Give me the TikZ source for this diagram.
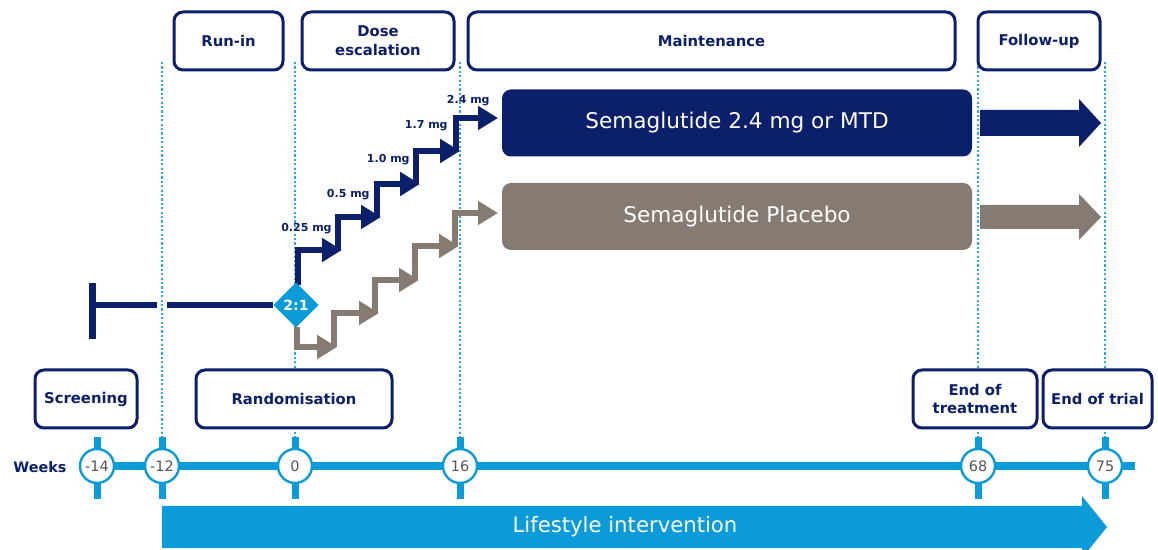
\documentclass[tikz,border=0pt]{standalone}
\usepackage{fontspec}
\setmainfont{DejaVu Sans}
\usepackage{tikz}
\usetikzlibrary{arrows.meta, shapes.geometric, backgrounds}

\definecolor{trialnavy}{HTML}{0B1F6B}
\definecolor{trialcyan}{HTML}{0A9BD8}
\definecolor{trialdot}{HTML}{29ABE2}
\definecolor{trialgrey}{HTML}{857B73}
\definecolor{weekgrey}{HTML}{555555}

\begin{document}
\begin{tikzpicture}[x=0.5pt, y=-0.5pt,
  phase/.style={draw=trialnavy, line width=1.5pt, rounded corners=4.5pt, fill=white,
    text=trialnavy, align=center, inner sep=0pt, minimum height=29pt,
    font=\fontsize{7.4}{9.4}\selectfont\bfseries},
  armbox/.style={fill=#1, rounded corners=4.5pt, minimum width=235pt, minimum height=33.5pt,
    inner sep=0pt, text=white, font=\fontsize{10.8}{13}\selectfont},
  week/.style={circle, draw=trialcyan, line width=1.2pt, fill=white, minimum size=17pt,
    inner sep=0pt, text=weekgrey, font=\fontsize{7.2}{8}\selectfont},
  dose/.style={anchor=east, inner sep=0pt, text=trialnavy, font=\fontsize{5.5}{6}\selectfont\bfseries},
  navystep/.style={draw=trialnavy, line width=2.6pt, line join=miter, -{Triangle[length=10pt,width=11.5pt]}},
  greystep/.style={navystep, draw=trialgrey},
  guide/.style={draw=trialdot, line width=1.1pt, dash pattern=on 1.1pt off 1.1pt},
  runline/.style={draw=trialnavy, line width=3pt}]

\useasboundingbox (0,0) rectangle (1158,550);

% phases on top
\node[phase, minimum width=54.5pt] (runin) at (228.5,41) {Run-in};
\node[phase, minimum width=76pt] (doseesc) at (378,41) {Dose\\escalation};
\node[phase, minimum width=243.5pt] (maint) at (711.5,41) {Maintenance};
\node[phase, minimum width=61pt] (followup) at (1039,41) {Follow-up};

% visits
\node[phase, minimum width=51pt] (screen) at (86,399) {Screening};
\node[phase, minimum width=98pt] (random) at (294,399) {Randomisation};
\node[phase, minimum width=62pt] (eot) at (975,399) {End of\\treatment};
\node[phase, minimum width=54.5pt] (eotrial) at (1097.5,399) {End of trial};

% week axis
\node[anchor=center, text=trialnavy, font=\fontsize{7.2}{8}\selectfont\bfseries] (weeks) at (40,467) {Weeks};
\foreach \wx/\wn/\wt in {97/wk14/-14, 162/wk12/-12, 295/wk0/0, 460/wk16/16, 978/wk68/68, 1105/wk75/75}
  \node[week] (\wn) at (\wx,466) {\wt};
\coordinate (axisend) at (1135,466);

\begin{pgfonlayer}{background}
  \foreach \gx in {162,295,460,978,1105}
    \draw[guide] (\gx,62) -- (\gx,438);
  \draw[trialcyan, line width=4pt] (wk14) -- (axisend);
  \foreach \wn in {wk14,wk12,wk0,wk16,wk68,wk75}
    \draw[trialcyan, line width=3.5pt] (\wn) ++(0,-29) -- ++(0,62);
\end{pgfonlayer}

% run-in and randomisation
\node[diamond, fill=trialcyan, minimum width=22.5pt, minimum height=22.5pt, inner sep=0pt] (ratio) at (296,305) {};
\coordinate (runstart) at (92,305);
\draw[trialnavy, line width=3.5pt] (92,283) -- (92,339);
\draw[runline] (runstart) -- (157,305);
\draw[runline] (167,305) -- (ratio.west);

% dose escalation
\foreach \xa/\ya/\xb/\yb in {298/285/342/250, 338/250/381/217, 377/217/420/184,
    416/184/460/151, 456/151/498/118}
  \draw[navystep] (\xa,\ya) |- (\xb,\yb);
\foreach \xa/\ya/\xb/\yb in {297/327/337/347, 334/347/379/313, 375/313/419/280,
    415/280/459/246, 455/246/498/213}
  \draw[greystep] (\xa,\ya) |- (\xb,\yb);
\node[diamond, fill=trialcyan, minimum width=22.5pt, minimum height=22.5pt, inner sep=0pt,
  text=white, font=\fontsize{7}{8}\selectfont\bfseries] at (ratio) {2:1};

\node[dose] (d025) at (332,229) {0.25 mg};
\node[dose] (d05) at (370,195) {0.5 mg};
\node[dose] (d10) at (410,160) {1.0 mg};
\node[dose] (d17) at (448,126) {1.7 mg};
\node[dose] (d24) at (490,101) {2.4 mg};

% treatment arms
\node[armbox=trialnavy] (sema) at (737,123) {Semaglutide 2.4 mg or MTD};
\node[armbox=trialgrey] (placebo) at (737,216.5) {Semaglutide Placebo};
\fill[trialnavy] (980,110) -- (1079,110) -- (1079,99) -- (1101,123) -- (1079,147)
  -- (1079,136) -- (980,136) -- cycle;
\fill[trialgrey] (980,205) -- (1079,205) -- (1079,194) -- (1101,217) -- (1079,240)
  -- (1079,229) -- (980,229) -- cycle;

% lifestyle
\fill[trialcyan] (162,506) -- (1082,506) -- (1082,496) -- (1107,527) -- (1082,558)
  -- (1082,548) -- (162,548) -- cycle;
\node[text=white, font=\fontsize{10.6}{13}\selectfont] (life) at (625,527) {Lifestyle intervention};
\end{tikzpicture}
\end{document}
